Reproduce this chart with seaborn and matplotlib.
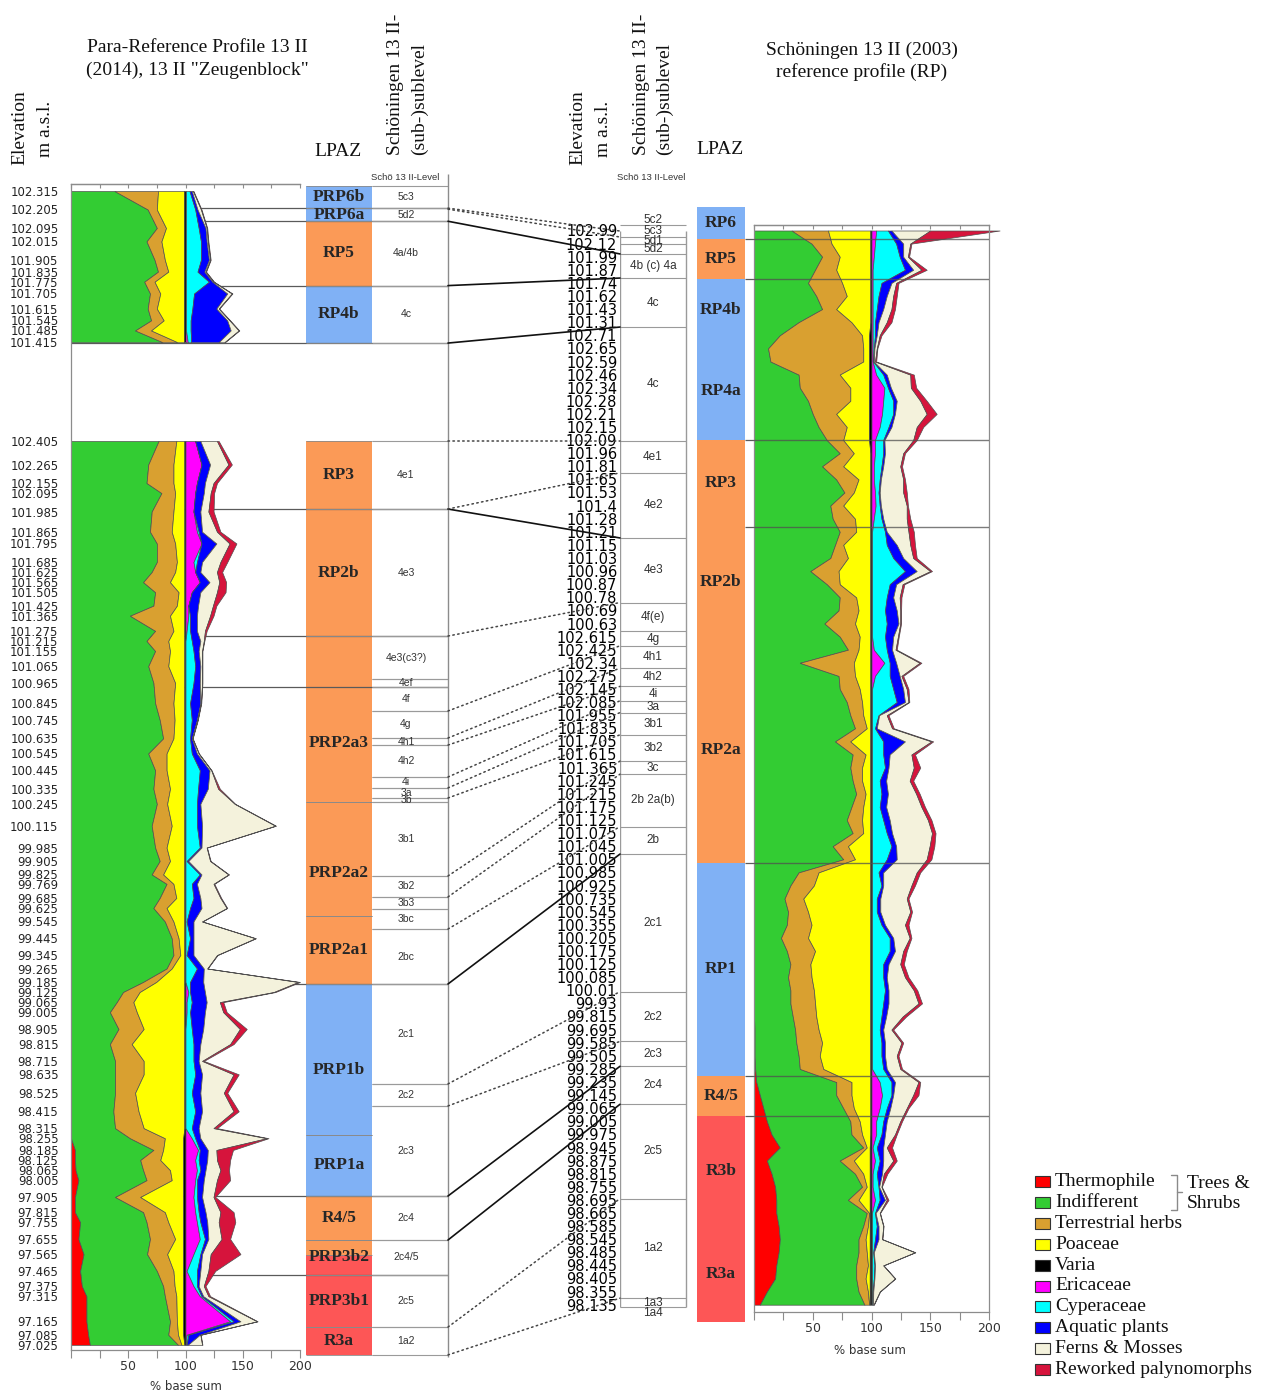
import numpy as np
import matplotlib
matplotlib.use("Agg")
import matplotlib.pyplot as plt
from matplotlib.patches import Rectangle, ConnectionPatch
import seaborn as sns

# ------------------------------------------------------------------ data
taxa = ["Thermophile", "Indifferent", "Terrestrial herbs", "Poaceae", "Varia",
        "Ericaceae", "Cyperaceae", "Aquatic plants", "Ferns & Mosses",
        "Reworked palynomorphs"]
taxa_colors = ["#ff0000", "#33cc33", "#d9a030", "#ffff00", "#000000",
               "#ff00ff", "#00ffff", "#0000ff", "#f4f2dc", "#d6143c"]

# Para-reference profile 13 II, "Zeugenblock" (upper block)
zb_elev = [102.315, 102.205, 102.095, 102.015, 101.905, 101.835, 101.775,
           101.705, 101.615, 101.545, 101.485, 101.415]
zb_thermo = [0, 0, 0, 0, 0, 0, 0, 0, 0, 0, 0, 0]
zb_indiff = [38, 67, 75, 66, 73, 76, 64, 69, 67, 70, 56, 80]
zb_herbs = [38, 8, 8, 13, 9, 9, 9, 9, 8, 11, 14, 13]
zb_poac = [23, 24, 16, 20, 17, 14, 26, 21, 24, 18, 29, 6]
zb_varia = [1, 1, 1, 1, 1, 1, 1, 1, 1, 1, 1, 1]
zb_eric = [0.5, 0.5, 0.5, 0.5, 0.5, 0.5, 0.5, 0.5, 0.5, 0.5, 0.5, 2]
zb_cyper = [3, 8, 11, 13, 13, 10, 20, 7, 5.5, 4, 4, 3]
zb_aqua = [2, 2, 6, 5, 7, 6, 3, 29, 21, 32, 35, 24]
zb_ferns = [1, 3, 1, 1, 1, 1, 1, 4, 2, 2, 7, 5]
zb_rew = [0.5, 0.5, 0.5, 0.5, 0.5, 0.5, 0.5, 0.5, 0.5, 0.5, 0.5, 0.5]

# Para-reference profile 13 II (2014), main block
pr_elev = [102.405, 102.265, 102.155, 102.095, 101.985, 101.865, 101.795, 101.685,
           101.625, 101.565, 101.505, 101.425, 101.365, 101.275, 101.215, 101.155,
           101.065, 100.965, 100.845, 100.745, 100.635, 100.545, 100.445, 100.335,
           100.245, 100.115, 99.985, 99.905, 99.825, 99.769, 99.685, 99.625,
           99.545, 99.445, 99.345, 99.265, 99.185, 99.125, 99.065, 99.005,
           98.905, 98.815, 98.715, 98.635, 98.525, 98.415, 98.315, 98.255,
           98.185, 98.125, 98.065, 98.005, 97.905, 97.815, 97.755, 97.655,
           97.565, 97.465, 97.375, 97.315, 97.165, 97.085, 97.025]
pr_thermo = [0] * 48 + [3.5, 3.5, 4, 6.5, 3.5, 3.5, 8, 6.5, 11, 8, 9.5, 13.5,
                        13.5, 15, 16.5]
pr_indiff = [76.5, 67.5, 66, 79, 70.5, 69, 75, 75, 70.5, 63, 73.5, 72, 51.5,
             73.5, 66, 73.5, 67.5, 72, 73.5, 77.5, 80.5, 67.5, 73.5, 72, 75,
             70.5, 73.5, 77.5, 70.5, 83.5, 77.5, 72, 82, 88, 89.5, 83.5, 63,
             45.5, 40, 34, 41.5, 34, 38.5, 38.5, 38.5, 37, 38.5, 51.5, 68.5, 57,
             59, 59.5, 35, 59.5, 58, 62.5, 55.5, 67, 71, 68.5, 73, 70, 77]
pr_herbs = [15.5, 22, 23.5, 12, 19, 19, 16, 17.5, 20.5, 23.5, 20.5, 20.5, 35, 16,
            19, 13, 17.5, 19, 16, 13, 9, 16, 10, 14.5, 9, 17.5, 10, 9, 10, 6,
            14.5, 11.5, 7.5, 6, 6, 4.5, 11.5, 14.5, 14.5, 23.5, 22, 19, 25, 25,
            17.5, 22, 25, 30.5, 8.5, 17.5, 23.5, 22, 22, 19, 19, 22, 17.5, 14.5,
            10, 10, 6, 8.5, 3]
pr_poac = [7, 9.5, 9.5, 8, 9.5, 11, 8, 6.5, 8, 12.5, 5, 6.5, 12.5, 9.5, 14, 12.5,
           14, 8, 9.5, 8.5, 9.5, 15.5, 15.5, 12.5, 15, 11, 15.5, 12.5, 18.5, 9.5,
           7, 15.5, 9.5, 5, 3.5, 11, 24.5, 39, 44.5, 41.5, 35.5, 46, 35.5, 35.5,
           43, 40, 35.5, 16, 17.5, 20, 11.5, 10, 37.5, 16, 13, 7, 14, 8.5, 7.5,
           6, 5.5, 4.5, 2.5]
pr_varia = [1] * 47 + [2] * 15 + [1]
pr_eric = [8.5, 14, 10, 8.5, 7, 10, 14, 7, 8.5, 12.5, 5.5, 2.5, 2.5, 1] + [0] * 23 \
    + [2.5, 1, 1] + [0] * 7 \
    + [5.5, 11, 8.5, 10, 8.5, 7, 8.5, 10, 12.5, 7, 1, 7, 12.5, 39, 1, 0.5]
pr_cyper = [0, 0, 0, 0, 0, 1.5, 0, 3, 0, 0, 0, 0, 1.5, 3, 5.5, 7, 8.5, 7, 4, 5.5,
            4, 5.5, 12.5, 11, 10, 10, 12.5, 1, 12.5, 5.5, 7, 4, 1, 4, 1, 10, 4,
            1.5, 4.5, 3, 5.5, 7, 7, 8.5, 5.5, 8.5, 5.5, 3, 1.5, 3, 3, 1.5, 3, 3,
            3, 4.5, 6, 9, 3, 1.5, 3, 1.5, 0.5]
pr_aqua = [4.5, 7.5, 7, 7.5, 6, 3, 13, 4.5, 4.5, 8.5, 7.5, 8.5, 6, 6, 7.5, 4.5,
           4.5, 5.5, 9, 4.5, 1.5, 4.5, 8.5, 8.5, 3, 4.5, 1.5, 1.5, 1.5, 4.5, 6,
           10, 6, 3, 6, 6, 11.5, 13, 13, 13, 10, 6, 4.5, 6, 7.5, 6, 6, 4.5, 7,
           7.5, 4.5, 6, 4.5, 6, 6, 3, 1.5, 3, 1.5, 1.5, 6, 10, 1]
pr_ferns = [14.5, 16, 7.5, 6, 7, 13, 11.5, 16, 14.5, 8.5, 14.5, 13, 11.5, 7, 3, 3,
            1.5, 2, 0.5, 0.5, 0.5, 1.5, 1.5, 9, 30, 64, 4.5, 19, 23.5, 14.5, 17.5,
            22, 7.5, 54, 20.5, 3, 83, 60, 11.5, 16, 32, 26, 3, 27.5, 20.5, 27.5,
            13, 58, 7.5, 8.5, 13, 11.5, 10, 13, 10, 11.5, 7.5, 7, 4.5, 4.5, 14.5,
            0.5, 12.5]
pr_rew = [1.5, 3, 3, 3, 4.5, 3, 6, 6, 4.5, 6, 7.5, 3, 3, 1.5, 0.5, 0.3, 0.3, 0.3,
          0.3, 0.3, 0.3, 0.3, 0.3, 1.5, 0.5, 0.5, 0.3, 0.5, 0.5, 0.7, 0.7, 0.5,
          0.3, 0.5, 0.5, 0.3, 1.5, 1.5, 3, 3, 6, 3, 1.5, 4.5, 3, 4.5, 3, 1.5,
          14.5, 11.5, 7.5, 11.5, 1.5, 11.5, 14.5, 7.5, 26, 6, 1.5, 1.5, 0.5, 0.3,
          0.3]

# Schoeningen 13 II (2003) reference profile, samples in diagram order
rp_labels = ["102.99", "102.12", "101.99", "101.87", "101.74", "101.62", "101.43",
             "101.31", "102.71", "102.65", "102.59", "102.46", "102.34", "102.28",
             "102.21", "102.15", "102.09", "101.96", "101.81", "101.65", "101.53",
             "101.4", "101.28", "101.21", "101.15", "101.03", "100.96", "100.87",
             "100.78", "100.69", "100.63", "102.615", "102.425", "102.34",
             "102.275", "102.145", "102.085", "101.955", "101.835", "101.705",
             "101.615", "101.365", "101.245", "101.215", "101.175", "101.125",
             "101.075", "101.045", "101.005", "100.985", "100.925", "100.735",
             "100.545", "100.355", "100.205", "100.175", "100.125", "100.085",
             "100.01", "99.93", "99.815", "99.695", "99.585", "99.505", "99.285",
             "99.235", "99.145", "99.065", "99.005", "99.975", "98.945", "98.875",
             "98.815", "98.755", "98.695", "98.665", "98.585", "98.545", "98.485",
             "98.445", "98.405", "98.355", "98.135"]
rp_thermo = [0] * 61 + [0.5, 0.5, 0.5, 1, 2, 5, 8, 11, 15, 22, 11, 15, 18, 19, 19,
                        21, 22, 21, 19, 18, 11, 5]
rp_indiff = [32, 49, 58, 52, 46, 53, 58, 38, 22, 12, 14, 38, 39, 46, 50, 55, 62,
             73, 58, 70, 77, 65, 67, 73, 69, 65, 48, 62, 73, 72, 60, 73, 80, 39,
             72, 73, 79, 82, 86, 69, 84, 82, 84, 87, 83, 79, 84, 67, 76, 38, 31,
             26, 29, 28, 23, 28, 31, 29, 31, 31, 33, 34.5, 35.5, 37.5, 38, 68, 65,
             68, 71, 68, 71, 62, 71, 74, 61, 77, 72, 67, 68, 68, 69, 78, 89]
rp_herbs = [31, 17, 15, 18, 29, 26, 12, 45, 70, 81, 79, 35, 43, 36, 20, 24, 14, 12,
            18, 19, 8, 11, 19, 14, 7, 15, 24, 11, 14, 17, 26, 17, 9, 46, 14, 17,
            13, 11, 10, 13, 11, 10, 8, 8, 10, 13, 9, 13, 10, 17, 20, 16, 17, 21,
            23, 24, 17, 20, 20, 21, 20, 20, 22, 18, 20, 13, 13, 9, 8, 9, 3, 12, 7,
            4, 9, 2, 4, 6, 7, 10, 8, 8, 4]
rp_poac = [36, 33, 26, 29, 24, 20, 29, 16, 6, 5, 5, 25, 16, 16, 28, 19, 22, 14, 23,
           10, 14, 23, 13, 12, 23, 19, 27, 26, 12, 10, 13, 9, 10, 14, 13, 9, 7, 6,
           3, 17, 4, 7, 7, 4, 6, 7, 6, 19, 13, 44, 48, 57, 53, 50, 53, 47, 51, 50,
           48, 47, 46, 44, 41, 43, 40, 16, 16, 14, 9, 7, 2.5, 13.5, 5.5, 2.5, 9.5,
           0.5, 1.5, 3.5, 2.5, 1.5, 3.5, 1.5, 0.5]
rp_varia = [1] * 8 + [2] * 9 + [1] * 53 + [1.5] * 13
rp_eric = [4, 3, 2, 1, 1, 1, 1, 1, 1, 1, 1, 4, 11, 10, 9, 7, 3, 3, 2, 2, 3, 3.5, 2] \
    + [0.5] * 9 + [2, 11, 3] + [0.5] * 30 + [7, 9, 7, 4, 4, 1, 3, 1, 1, 3] + [0.5] * 8
rp_cyper = [10, 18, 22, 27.5, 7.5, 5, 3.5, 2, 2, 1, 0.5, 6, 3, 8.5, 9.5, 7.5, 7, 7,
            6.5, 5, 3, 3.5, 6.5, 11, 12.5, 18, 28, 15, 12.5, 11, 12.5, 11, 11, 4.5,
            12.5, 18, 21, 5.5, 2.5, 9.5, 9.5, 11, 6.5, 8, 6.5, 9.5, 12.5, 16.5,
            12.5, 5.5, 8, 4, 4, 8, 15, 15, 9.5, 9.5, 11, 9.5, 8, 6.5, 8, 8, 9.5,
            10, 8, 6, 6, 4.5, 3.5, 4, 3.5, 5, 4, 2.5, 4, 2.5, 1, 2, 1.5, 0.5, 0.5]
rp_aqua = [3, 6, 3, 7, 8.5, 7, 5.5, 3, 1.5, 0.5, 0.5, 3, 2.5, 3, 1.5, 2.5, 1, 1.5,
           1.5, 1, 1, 1, 1.5, 1.5, 8.5, 8.5, 10, 5.5, 5.5, 10, 10, 7, 4.5, 5.5,
           8.5, 8.5, 7, 0.5, 1.5, 18.5, 5.5, 3, 5.5, 5.5, 5.5, 5.5, 4.5, 4, 8.5,
           4, 1.5, 3, 3, 3, 3, 4.5, 4.5, 3, 3, 4.5, 4, 3, 3, 3, 3, 3, 1.5, 3, 3,
           3, 5.5, 3, 4.5, 0.5, 4.5, 0.5, 1.5, 3, 0.5, 0.5, 0.5, 0.5, 0.3]
rp_ferns = [33, 6, 4, 7, 4, 5.5, 7, 7, 2.5, 2, 1, 20, 17, 20, 27, 21.5, 24.5, 15.5,
            14.5, 19, 20, 22, 20, 18.5, 11.5, 8.5, 11.5, 5.5, 5.5, 3, 1.5, 4, 3,
            20, 1.5, 3, 3, 6.5, 13, 22.5, 18.5, 21.5, 20, 24, 30, 32.5, 34, 28.5,
            25.5, 28.5, 24, 22.5, 25.5, 17, 14, 7, 10, 15.5, 21.5, 25.5, 14, 7, 14,
            10, 11.5, 20, 17, 14, 11.5, 8.5, 3, 8.5, 1.5, 2, 1.5, 3.5, 4, 3, 35, 7,
            17.5, 5.5, 0.5]
rp_rew = [59, 1, 1, 4.5, 2, 3, 3, 4, 1.5, 0.5, 1, 3, 4.5, 5.5, 8.5, 5.5, 3, 1.5,
          1.5, 1.5, 3, 1, 3, 4.5, 4, 3, 1.5, 1.5, 1.5, 0.7, 0.7, 0.7, 1, 1.5, 1.5,
          1.5, 0.7, 1.5, 1.5, 1.5, 3, 5.5, 3, 3, 3, 3, 3, 4, 4, 3, 3, 1.5, 1.5, 3,
          1.5, 3, 3, 3, 3, 3, 3, 1.5, 1.5, 1.5, 1.5, 1.5, 4.5, 1.5, 1.5, 1.5, 4.5,
          3, 3, 0.3, 1.5, 0.3, 0.3, 0.3, 0.3, 0.3, 0.3, 0.3, 0.3]

# pollen assemblage zones (name, top, bottom, colour) - elevations m a.s.l.
lpaz_zb = [("PRP6b", 102.345, 102.213, "blue"), ("PRP6a", 102.213, 102.135, "blue"),
           ("RP5", 102.135, 101.752, "orange"), ("RP4b", 101.752, 101.41, "blue")]
lpaz_pr = [("RP3", 102.405, 102.0, "orange"), ("RP2b", 102.0, 101.244, "orange"),
           ("PRP2a3", 101.244, 100.256, "orange"), ("PRP2a2", 100.256, 99.578, "orange"),
           ("PRP2a1", 99.578, 99.173, "orange"), ("PRP1b", 99.173, 98.274, "blue"),
           ("PRP1a", 98.274, 97.911, "blue"), ("R4/5", 97.911, 97.649, "orange"),
           ("PRP3b2", 97.649, 97.441, "red"), ("", 97.649, 97.56, "orange"),
           ("PRP3b1", 97.441, 97.131, "red"), ("R3a", 97.131, 96.965, "red")]
# zone names that are not written at mid-zone (elevation of the name)
lpaz_name_at = {"PRP2a3": 100.607, "PRP2a2": 99.834, "PRP1b": 98.661}
zb_zone_lines = [102.213, 102.135, 101.752, 101.41]
pr_zone_lines = [102.0, 101.244, 100.941, 99.173, 97.911, 97.441]

sub_zb = [("5c3", 102.345, 102.213), ("5d2", 102.213, 102.135),
          ("4a/4b", 102.135, 101.752), ("4c", 101.752, 101.41)]
sub_pr = [("4e1", 102.405, 102.0), ("4e3", 102.0, 101.244),
          ("4e3(c3?)", 101.244, 100.988), ("4ef", 100.988, 100.941),
          ("4f", 100.941, 100.798), ("4g", 100.798, 100.637), ("4h1", 100.637, 100.595),
          ("4h2", 100.595, 100.405), ("4i", 100.405, 100.34), ("3a", 100.34, 100.28),
          ("3b", 100.28, 100.256), ("3b1", 100.256, 99.816), ("3b2", 99.816, 99.691),
          ("3b3", 99.691, 99.619), ("3bc", 99.619, 99.5), ("2bc", 99.5, 99.173),
          ("2c1", 99.173, 98.578), ("2c2", 98.578, 98.447), ("2c3", 98.447, 97.911),
          ("2c4", 97.911, 97.649), ("2c4/5", 97.649, 97.441), ("2c5", 97.441, 97.131),
          ("1a2", 97.131, 96.965)]

# reference profile: boundaries given in sample-order units
rp_levels = [("5c2", -1.2, -0.42), ("5c3", -0.42, 0.5), ("5d1", 0.5, 1.03),
             ("5d2", 1.03, 1.79), ("4b (c) 4a", 1.79, 3.63), ("4c", 3.63, 7.37),
             ("4c", 7.37, 16.07), ("4e1", 16.07, 18.5), ("4e2", 18.5, 23.47),
             ("4e3", 23.47, 28.4), ("4f(e)", 28.4, 30.6), ("4g", 30.6, 31.7),
             ("4h1", 31.7, 33.4), ("4h2", 33.4, 34.8), ("4i", 34.8, 35.9),
             ("3a", 35.9, 36.8), ("3b1", 36.8, 38.5), ("3b2", 38.5, 40.5),
             ("3c", 40.5, 41.5), ("2b 2a(b)", 41.5, 45.5), ("2b", 45.5, 47.6),
             ("2c1", 47.6, 58.1), ("2c2", 58.1, 61.9), ("2c3", 61.9, 63.8),
             ("2c4", 63.8, 66.7), ("2c5", 66.7, 73.9), ("1a2", 73.9, 81.5),
             ("1a3", 81.5, 82.2), ("1a4", 82.2, 83.0)]
rp_lpaz = [("RP6", -1.79, 0.65, "blue"), ("RP5", 0.65, 3.70, "orange"),
           ("RP4b", 3.70, 8.5, "blue"), ("RP4a", 8.5, 15.99, "blue"),
           ("RP3", 15.99, 22.63, "orange"), ("RP2b", 22.63, 31.0, "orange"),
           ("RP2a", 31.0, 48.28, "orange"), ("RP1", 48.28, 64.54, "blue"),
           ("R4/5", 64.54, 67.6, "orange"), ("R3b", 67.6, 76.0, "red"),
           ("R3a", 76.0, 83.32, "red")]
rp_zone_lines = [0.65, 3.70, 15.99, 22.63, 48.28, 64.54, 67.6]

# correlation: (para-ref elevation, in Zeugenblock?, reference position, solid?)
links = [(102.135, True, 1.79, True), (101.752, True, 3.63, True),
         (101.41, True, 7.37, True), (102.0, False, 23.47, True),
         (99.173, False, 47.6, True), (97.911, False, 63.8, True),
         (97.649, False, 66.7, True),
         (102.213, True, 0.04, False), (102.207, True, 0.5, False),
         (102.405, False, 16.07, False), (102.0, False, 18.5, False),
         (101.244, False, 28.4, False), (100.798, False, 31.7, False),
         (100.637, False, 33.4, False), (100.595, False, 34.8, False),
         (100.405, False, 35.9, False), (100.34, False, 36.8, False),
         (100.28, False, 38.5, False), (99.816, False, 40.5, False),
         (99.691, False, 41.5, False), (99.5, False, 45.5, False),
         (98.578, False, 58.1, False), (98.447, False, 61.9, False),
         (97.131, False, 73.9, False), (96.965, False, 81.5, False)]

zone_colors = {"blue": "#80b1f5", "orange": "#fb9a57", "red": "#fd5656"}

# ------------------------------------------------------------------ figure
sns.set_theme(style="white", rc={"axes.edgecolor": "#8c8c8c", "axes.linewidth": 0.9,
                                  "xtick.color": "#8c8c8c", "ytick.color": "#8c8c8c",
                                  "xtick.labelcolor": "#333333",
                                  "ytick.labelcolor": "#222222"})
plt.rcParams["font.family"] = ["DejaVu Sans"]
SERIF = "Liberation Serif"
SANS = "Liberation Sans"

W, H = 1268, 1397
fig = plt.figure(figsize=(W / 100, H / 100), dpi=100)


def px_axes(x0, y0, x1, y1):
    return fig.add_axes([x0 / W, 1 - y1 / H, (x1 - x0) / W, (y1 - y0) / H])


def ftext(x, y, s, **kw):
    fig.text(x / W, 1 - y / H, s, **kw)


def elev_at(y):          # para-reference profile: 168 px per metre
    return 102.405 - (y - 441) / 168


def pos_at(y):           # reference profile: one sample every 13.1 px
    return (y - 230.5) / 13.1


UP = 1.578               # Zeugenblock drawn above the main block


def stack(ax, y, series):
    left = np.zeros(len(y))
    for vals, col in zip(series, taxa_colors):
        right = left + np.asarray(vals, dtype=float)
        ax.fill_betweenx(y, left, right, facecolor=col, edgecolor="#505050",
                         linewidth=0.5, clip_on=False, zorder=2)
        left = right


def pollen_xaxis(ax):
    ax.set_xlim(0, 200)
    ax.set_xticks([50, 100, 150, 200])
    ax.set_xticks([0, 25, 75, 125, 175], minor=True)
    ax.tick_params(axis="x", which="both", direction="out", length=6, width=0.8,
                   labelsize=9, pad=1, bottom=True)
    top = ax.secondary_xaxis("top")
    top.set_xticks(range(0, 201, 25))
    top.set_xticklabels([])
    top.tick_params(direction="in", length=3, width=0.8)


# ---- left: columns behind the diagram
axLz = px_axes(71, 170, 448, 1360)
axLz.set_xlim(71, 448)
axLz.set_ylim(elev_at(1360), elev_at(170))
axLz.axis("off")
axLz.hlines([e + UP for e in zb_zone_lines] + pr_zone_lines, 71, 448,
            color="#5a5a5a", lw=0.9)
for zones, off in [(lpaz_zb, UP), (lpaz_pr, 0)]:
    for name, top, bot, c in zones:
        axLz.add_patch(Rectangle((306, bot + off), 66, top - bot,
                                 facecolor=zone_colors[c], lw=0))
        axLz.hlines([top + off, bot + off], 306, 372, color="#8a8a8a", lw=0.6)
        if name:
            ymid = lpaz_name_at.get(name, (top + bot) / 2) + off
            axLz.text(339, ymid, name, ha="center", va="center",
                      fontsize=12.5, fontweight="bold", family=SERIF)
for levels, off in [(sub_zb, UP), (sub_pr, 0)]:
    for name, top, bot in levels:
        axLz.hlines([top + off, bot + off], 372, 448, color="#9a9a9a", lw=0.8)
        axLz.text(406, (top + bot) / 2 + off, name, ha="center", va="center",
                  fontsize=7.5, family=SANS, color="#333333")
axLz.vlines(448, elev_at(1357), elev_at(174), color="#8c8c8c", lw=1, clip_on=False)

# ---- left: pollen diagram
axL = px_axes(71, 184, 300, 1350)
axL.patch.set_alpha(0)
axL.set_ylim(elev_at(1350), elev_at(184))
stack(axL, np.array(zb_elev) + UP,
      [zb_thermo, zb_indiff, zb_herbs, zb_poac, zb_varia, zb_eric, zb_cyper,
       zb_aqua, zb_ferns, zb_rew])
stack(axL, np.array(pr_elev),
      [pr_thermo, pr_indiff, pr_herbs, pr_poac, pr_varia, pr_eric, pr_cyper,
       pr_aqua, pr_ferns, pr_rew])
pollen_xaxis(axL)
axL.spines["right"].set_visible(False)
axL.set_yticks([e + UP for e in zb_elev] + pr_elev,
               [f"{e:.3f}" for e in zb_elev] + [f"{e:.3f}" for e in pr_elev])
axL.tick_params(axis="y", length=0, pad=9, labelsize=8.4)

# ---- middle + right columns
axRz = px_axes(620, 170, 754, 1360)
axRz.set_xlim(620, 754)
axRz.set_ylim(pos_at(1360), pos_at(170))
axRz.set_frame_on(False)
axRz.set_xticks([])
axRz.set_yticks(range(len(rp_labels)), rp_labels)
axRz.tick_params(axis="y", length=0, pad=2, labelsize=10.5, labelcolor="#000000")
for k, (name, top, bot) in enumerate(rp_levels):
    if k > 0:
        axRz.hlines(top, 620, 686, color="#9a9a9a", lw=0.8)
    axRz.text(653, (top + bot) / 2, name, ha="center", va="center",
              fontsize=8.5, family=SANS, color="#333333")
axRz.vlines([620, 686], 0.04, 82.2, color="#9a9a9a", lw=1)
for name, top, bot, c in rp_lpaz:
    axRz.add_patch(Rectangle((697, top), 48, bot - top,
                             facecolor=zone_colors[c], lw=0))
    axRz.text(721, (top + bot) / 2, name, ha="center", va="center",
              fontsize=12.5, fontweight="bold", family=SERIF)
axRz.hlines(rp_zone_lines, 745, 754, color="#5a5a5a", lw=0.9)

# ---- right: pollen diagram
axR = px_axes(754, 225, 989, 1312)
axR.patch.set_alpha(0)
axR.set_ylim(pos_at(1312), pos_at(225))
stack(axR, np.arange(len(rp_labels)),
      [rp_thermo, rp_indiff, rp_herbs, rp_poac, rp_varia, rp_eric, rp_cyper,
       rp_aqua, rp_ferns, rp_rew])
for y in rp_zone_lines:
    axR.axhline(y, color="#505050", lw=1, alpha=0.75, zorder=5)
pollen_xaxis(axR)
axR.set_yticks([])

# ---- correlation lines between the two profiles
for e, in_zb, pos, solid in links:
    con = ConnectionPatch(xyA=(448, e + (UP if in_zb else 0)), coordsA="data", axesA=axLz,
                          xyB=(620, pos), coordsB="data", axesB=axRz,
                          color="#111111" if solid else "#444444",
                          lw=1.2 if solid else 1.1,
                          linestyle="-" if solid else (0, (1, 2.2)))
    fig.add_artist(con)

# ---- headings
hd = dict(fontsize=14, family=SERIF, color="#111111")
ftext(197, 48, "Para-Reference Profile 13 II", ha="center", va="center", **hd)
ftext(197, 70, '(2014), 13 II "Zeugenblock"', ha="center", va="center", **hd)
ftext(862, 50, "Schöningen 13 II (2003)", ha="center", va="center", **hd)
ftext(862, 72, "reference profile (RP)", ha="center", va="center", **hd)
for x, s, y0 in [(20, "Elevation", 165), (45, "m a.s.l.", 157),
                 (395, "Schöningen 13 II-", 155), (419, "(sub-)sublevel", 155),
                 (578, "Elevation", 165), (603, "m a.s.l.", 157),
                 (641, "Schöningen 13 II-", 155), (664, "(sub-)sublevel", 155)]:
    ftext(x, y0, s, rotation=90, rotation_mode="anchor", ha="left", va="center", **hd)
ftext(338, 152, "LPAZ", ha="center", va="center", **hd)
ftext(720, 150, "LPAZ", ha="center", va="center", **hd)
ftext(405, 178, "Schö 13 II-Level", ha="center", va="center", fontsize=6.8,
      family=SANS, color="#333333")
ftext(651, 177, "Schö 13 II-Level", ha="center", va="center", fontsize=6.8,
      family=SANS, color="#333333")
ftext(186, 1386, "% base sum", ha="center", va="center", fontsize=8.5, color="#333333")
ftext(870, 1351, "% base sum", ha="center", va="center", fontsize=8.5, color="#333333")

# ---- legend
axG = px_axes(1020, 1160, 1268, 1390)
axG.set_xlim(1020, 1268)
axG.set_ylim(1390, 1160)
axG.axis("off")
for k, (name, col) in enumerate(zip(taxa, taxa_colors)):
    y = 1181.5 + k * 20.9
    axG.add_patch(Rectangle((1035, y - 5.5), 15, 11, facecolor=col,
                            edgecolor="#333333", lw=0.8))
    axG.text(1055, y, name, ha="left", va="center", fontsize=14, family=SERIF,
             color="#111111")
axG.plot([1171, 1177, 1177, 1171], [1175, 1175, 1210, 1210], color="#8a8a8a", lw=1)
axG.plot([1177, 1182], [1192, 1192], color="#8a8a8a", lw=1)
axG.text(1187, 1183, "Trees &", ha="left", va="center", fontsize=14, family=SERIF,
         color="#111111")
axG.text(1187, 1204, "Shrubs", ha="left", va="center", fontsize=14, family=SERIF,
         color="#111111")

fig.savefig("out.png", dpi=100)
